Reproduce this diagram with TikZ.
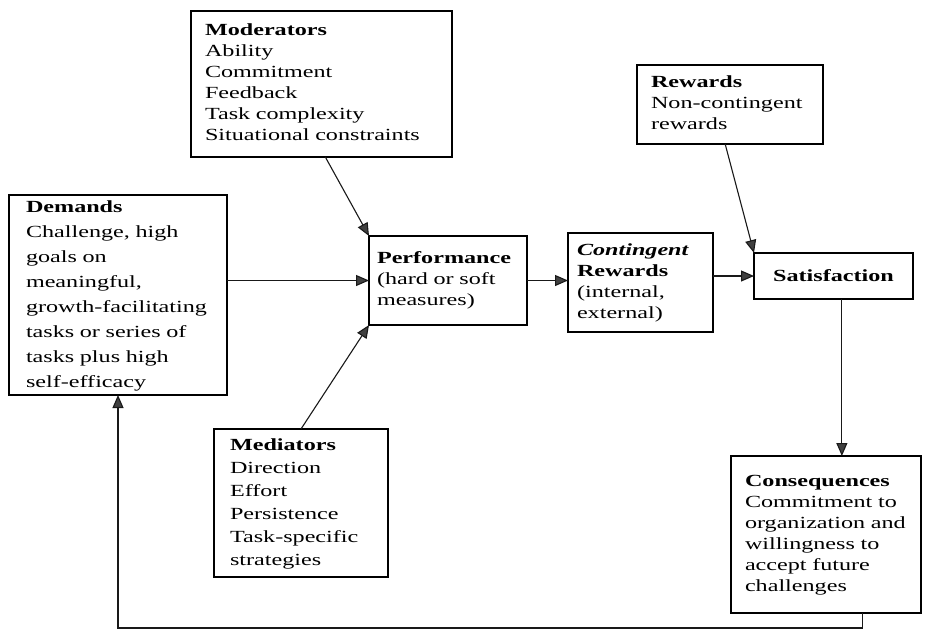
\documentclass[tikz,border=0pt]{standalone}
\usepackage{fontspec}
\setmainfont{Liberation Serif}[FakeStretch=1.42]
\usetikzlibrary{arrows.meta}
\newcommand{\boxlines}[1]{\begin{tabular}{@{}l@{}}#1\end{tabular}}
\begin{document}
\begin{tikzpicture}[x=1pt,y=-1pt,
  box/.style={draw, line width=1.4pt, inner ysep=0pt, outer sep=0pt, anchor=north west, align=left, font=\fontsize{17}{21}\selectfont},
  arr/.style={line width=1.1pt, draw=black!90, -{Triangle[length=13pt,width=11pt,fill=black!75]}}]
\useasboundingbox (0,0) rectangle (925,632);

\node[box, inner xsep=14pt, text width=233pt, minimum height=146pt] (mod) at (191,11)
  {\boxlines{\textbf{Moderators}\\Ability\\Commitment\\Feedback\\Task complexity\\Situational constraints}};
\node[box, inner xsep=17pt, text width=184pt, minimum height=190pt, font=\fontsize{17}{25}\selectfont] (dem) at (9,195)
  {\boxlines{\textbf{Demands}\\Challenge, high\\goals on\\meaningful,\\growth-facilitating\\tasks or series of\\tasks plus high\\self-efficacy}};
\node[box, inner xsep=8pt, text width=142pt, minimum height=89pt] (perf) at (369,236)
  {\boxlines{\textbf{Performance}\\(hard or soft\\measures)}};
\node[box, inner xsep=9pt, text width=127pt, minimum height=99pt] (cont) at (568,233)
  {\boxlines{\textbf{\textit{Contingent}}\\\textbf{Rewards}\\(internal,\\external)}};
\node[box, inner xsep=14pt, text width=158pt, minimum height=79pt] (rew) at (637,65)
  {\boxlines{\textbf{Rewards}\\Non-contingent\\rewards}};
\node[box, inner xsep=0pt, text width=159pt, minimum height=46pt, align=center] (sat) at (754,253)
  {\textbf{Satisfaction}};
\node[box, inner xsep=16pt, text width=142pt, minimum height=148pt, font=\fontsize{17}{23}\selectfont] (med) at (214,429)
  {\boxlines{\textbf{Mediators}\\Direction\\Effort\\Persistence\\Task-specific\\strategies}};
\node[box, inner xsep=14pt, text width=162pt, minimum height=157pt] (cons) at (731,456)
  {\boxlines{\textbf{Consequences}\\Commitment to\\organization and\\willingness to\\accept future\\challenges}};

\draw[arr] (mod.-87) -- (perf.north west);
\draw[arr] (med.north) -- (perf.south west);
\draw[arr] (dem.east |- perf.west) -- (perf.west);
\draw[arr] (perf.east) -- (perf.east -| cont.west);
\draw[arr] (sat.west -| cont.east) -- (sat.west);
\draw[arr] (rew.-97) -- (sat.north west);
\draw[arr] (sat.-70) -- (sat.-70 |- cons.north);
\draw[arr] (cons.-65) -- ++(0,15) -| (dem.south);
\end{tikzpicture}
\end{document}
